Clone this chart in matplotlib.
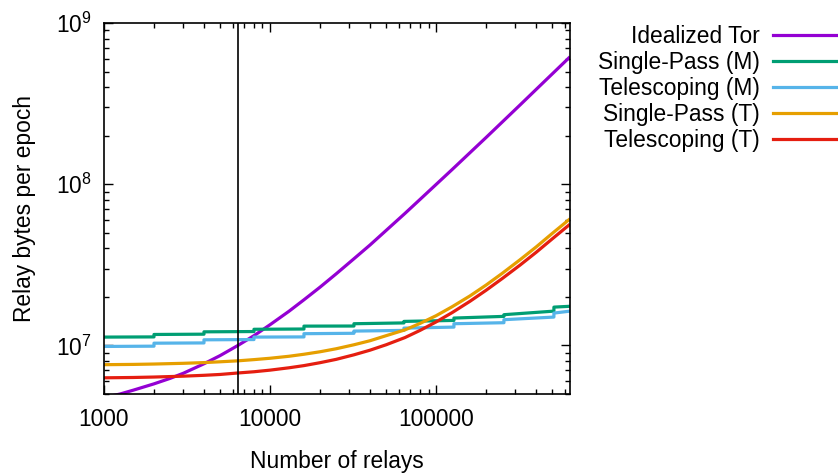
import matplotlib
matplotlib.use('Agg')
import matplotlib.pyplot as plt
from matplotlib.lines import Line2D
import numpy as np

plt.rcParams['font.family'] = ['Liberation Sans', 'DejaVu Sans']
plt.rcParams['mathtext.fontset'] = 'custom'
plt.rcParams['mathtext.rm'] = 'Liberation Sans'
plt.rcParams['mathtext.default'] = 'regular'

FS = 16.4

# Idealized Tor
tor_x = [1000, 1250, 1500, 2000, 2500, 3000, 4000, 5000, 6400, 8000, 10000, 13000, 16000,
         20000, 25000, 32000, 40000, 50000, 65000, 80000, 100000, 125000, 160000,
         200000, 250000, 320000, 400000, 500000, 640000]
tor_y = [4.75e6, 5.0e6, 5.28e6, 5.78e6, 6.25e6, 6.72e6, 7.7e6, 8.65e6, 1.0e7, 1.15e7, 1.345e7,
         1.63e7, 1.92e7, 2.3e7, 2.78e7, 3.45e7, 4.2e7, 5.17e7, 6.6e7, 8.05e7, 9.97e7, 1.235e8,
         1.57e8, 1.95e8, 2.43e8, 3.1e8, 3.87e8, 4.83e8, 6.17e8]

# step series: segment edges, value at start / end of each segment
step_x = [1000, 2000, 4000, 8000, 16000, 32000, 64000, 128000, 256000, 512000, 640000]
sp_m_start = [1.127e7, 1.17e7, 1.215e7, 1.26e7, 1.318e7, 1.364e7, 1.41e7, 1.479e7, 1.552e7, 1.729e7]
sp_m_end = [1.13e7, 1.175e7, 1.22e7, 1.265e7, 1.32e7, 1.38e7, 1.43e7, 1.515e7, 1.633e7, 1.75e7]
te_m_start = [9.86e6, 1.033e7, 1.084e7, 1.127e7, 1.183e7, 1.228e7, 1.281e7, 1.364e7, 1.445e7, 1.588e7]
te_m_end = [9.9e6, 1.037e7, 1.088e7, 1.13e7, 1.19e7, 1.24e7, 1.3e7, 1.384e7, 1.5e7, 1.633e7]

# Single-Pass (T) and Telescoping (T), read at the same relay counts
t_x = [1000, 1500, 2000, 3000, 4000, 5000, 6400, 8000, 10000, 13000, 16000, 20000, 25000,
       32000, 40000, 50000, 65000, 80000, 100000, 125000, 160000, 200000, 250000, 320000,
       400000, 500000, 640000]
sp_t_y = [7.6e6, 7.63e6, 7.67e6, 7.75e6, 7.83e6, 7.92e6, 8.03e6, 8.17e6, 8.33e6, 8.57e6, 8.82e6,
          9.14e6, 9.54e6, 1.01e7, 1.07e7, 1.15e7, 1.25e7, 1.37e7, 1.53e7, 1.74e7, 2.03e7,
          2.37e7, 2.8e7, 3.4e7, 4.08e7, 4.95e7, 6.1e7]
te_t_y = [6.3e6, 6.33e6, 6.37e6, 6.45e6, 6.53e6, 6.61e6, 6.75e6, 6.87e6, 7.03e6, 7.27e6, 7.5e6,
          7.82e6, 8.2e6, 8.75e6, 9.35e6, 1.01e7, 1.12e7, 1.24e7, 1.4e7, 1.6e7, 1.88e7,
          2.2e7, 2.6e7, 3.15e7, 3.78e7, 4.58e7, 5.65e7]

current_relays = 6400

labels = ['Idealized Tor', 'Single-Pass (M)', 'Telescoping (M)', 'Single-Pass (T)', 'Telescoping (T)']
colors = ['#9400d3', '#009e73', '#56b4e9', '#e69f00', '#e51e10']


def steps(edges, starts, ends):
    xs, ys = [], []
    for i in range(len(starts)):
        xs += [edges[i], edges[i + 1]]
        ys += [starts[i], ends[i]]
    return xs, ys


fig = plt.figure(figsize=(8.38, 4.73), dpi=100)
ax = fig.add_axes([104 / 838, 79 / 473, 466 / 838, 371 / 473])

series = [
    (tor_x, tor_y),
    steps(step_x, sp_m_start, sp_m_end),
    steps(step_x, te_m_start, te_m_end),
    (t_x, sp_t_y),
    (t_x, te_t_y),
]
lw = 2.3
for (xs, ys), c in zip(series, colors):
    ax.plot(xs, ys, color=c, lw=lw, solid_capstyle='butt', solid_joinstyle='round')

ax.axvline(current_relays, color='black', lw=1.2, zorder=5)

ax.set_xscale('log')
ax.set_yscale('log')
ax.set_xlim(1000, 640000)
ax.set_ylim(5e6, 1e9)

ax.set_xticks([1000, 10000, 100000])
ax.set_xticklabels(['1000', '10000', '100000'])
ax.set_yticks([1e7, 1e8, 1e9])
ax.set_yticklabels([r'$10^{7}$', r'$10^{8}$', r'$10^{9}$'])
ax.xaxis.set_minor_formatter(matplotlib.ticker.NullFormatter())
ax.yaxis.set_minor_formatter(matplotlib.ticker.NullFormatter())

ax.tick_params(which='both', direction='in', top=True, right=True, width=1.0, labelsize=FS)
ax.tick_params(which='major', length=6.5)
ax.tick_params(which='minor', length=3.5)
ax.tick_params(axis='x', pad=10)
ax.tick_params(axis='y', pad=9)
for s in ax.spines.values():
    s.set_linewidth(1.2)

ax.set_xlabel('Number of relays', fontsize=FS, labelpad=14)
ax.set_ylabel('Relay bytes per epoch', fontsize=FS, labelpad=14)

# legend outside on the right, text right-aligned before the sample line
for i, (lab, c) in enumerate(zip(labels, colors)):
    base = 1 - (43 + 26 * i) / 473
    mid = 1 - (35 + 26 * i) / 473
    fig.text(760 / 838, base, lab, ha='right', va='baseline', fontsize=FS)
    fig.add_artist(Line2D([773 / 838, 1.0], [mid, mid], transform=fig.transFigure,
                          color=c, lw=lw))

fig.savefig('out.png', dpi=100)
